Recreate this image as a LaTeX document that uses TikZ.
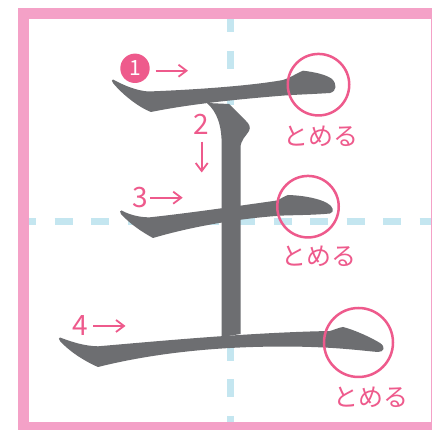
\documentclass[tikz,border=0pt]{standalone}
\usepackage{fontspec}
\newfontfamily\cjk{Noto Sans CJK JP}
\usetikzlibrary{arrows.meta}
\definecolor{framepink}{RGB}{244,161,199}
\definecolor{guide}{RGB}{196,230,240}
\definecolor{ink}{RGB}{109,110,113}
\definecolor{accent}{RGB}{238,90,140}
\tikzset{
  brush/.style={fill=ink, draw=none},
  guideline/.style={draw=guide, line width=6.5pt, dash pattern=on 18pt off 18.5pt},
  ring/.style={circle, draw=accent, line width=2.5pt, inner sep=0pt},
  arr/.style={draw=accent, line width=1.8pt, -{Straight Barb[length=8pt,width=12pt]}},
  num/.style={text=accent, inner sep=0pt, font=\cjk\fontsize{28}{28}\selectfont},
  tome/.style={text=accent, inner sep=0pt, font=\cjk\fontsize{25}{25}\selectfont},
  badge/.style={circle, fill=accent, text=white, inner sep=0pt, minimum size=29.4pt, font=\cjk\fontsize{21}{21}\selectfont}
}
\begin{document}
\begin{tikzpicture}[x=1pt,y=-1pt]
\useasboundingbox (0,0) rectangle (432,430);
\fill[white] (0,0) rectangle (432,430);
% frame
\draw[framepink, line width=11pt] (23.8,13.8) rectangle (436,427.2);
% guides
\draw[guideline, dash phase=5pt] (230.7,19.3) -- (230.7,421.7);
\draw[guideline, dash phase=11.3pt] (29.3,221.3) -- (430.5,221.3);
% stroke 1
\fill[brush] (113,79.5) .. controls (124,85.5) and (136,90.5) .. (148,91.5)
  .. controls (190,90) and (250,86) .. (283,80)
  .. controls (290,78) and (297,73) .. (303,70.7)
  .. controls (315,72) and (327,75) .. (332,79)
  .. controls (337,84) and (337,91) .. (330,93)
  .. controls (315,94) and (300,94.5) .. (287,95.3)
  .. controls (240,99) and (190,104) .. (151,112)
  .. controls (138,107) and (122,94) .. (113,83)
  .. controls (111.5,81.5) and (111.5,79.5) .. (113,79.5) -- cycle;
% stroke 2
\fill[brush] (207,103) .. controls (217,112) and (221.7,125) .. (221.7,145)
  -- (221.7,337) -- (240.5,334) -- (240.5,148)
  .. controls (240.5,140) and (246,136) .. (249,131)
  .. controls (251,127) and (249,124) .. (246,121)
  -- (229,104) -- cycle;
% stroke 3
\fill[brush] (121.5,210.5) .. controls (130,215) and (140,217.5) .. (150,217.3)
  .. controls (190,213) and (245,205) .. (277,200.5)
  .. controls (281,198.5) and (285,196) .. (288,195)
  .. controls (305,195.5) and (320,199) .. (327,203)
  .. controls (333,206) and (335,212) .. (330,213.5)
  .. controls (315,215) and (300,215) .. (284,215.5)
  .. controls (240,218) and (190,227) .. (153,238)
  .. controls (142,232) and (130,224) .. (121,214)
  .. controls (119.5,212) and (120,210.5) .. (121.5,210.5) -- cycle;
% stroke 4
\fill[brush] (60,337.5) .. controls (72,342) and (84,346) .. (98,346.3)
  .. controls (160,341) and (250,332.5) .. (330,331)
  .. controls (335,329.5) and (339,327.5) .. (343,327)
  .. controls (355,330) and (372,338) .. (380,343)
  .. controls (386,347) and (384,352) .. (378,352)
  .. controls (360,350.5) and (340,347.5) .. (300,346.7)
  .. controls (230,345.5) and (160,351.5) .. (98,367)
  .. controls (82,360) and (68,350) .. (60,341)
  .. controls (58.5,339.5) and (58.5,337.5) .. (60,337.5) -- cycle;
% rings
\node[ring, minimum size=61.5pt] (c1) at (318.5,84.7) {};
\node[ring, minimum size=61.5pt] (c2) at (308,206.7) {};
\node[ring, minimum size=69pt] (c3) at (358.5,342.5) {};
% labels
\node[tome] (t1) at (321,136) {とめる};
\node[tome] (t2) at (319,256) {とめる};
\node[tome] (t3) at (371,397.5) {とめる};
% order numbers
\node[badge] (n1) at (135,68.3) {1};
\node[num] (n2) at (201.7,124.5) {2};
\node[num] (n3) at (140,197.5) {3};
\node[num] (n4) at (80,325.5) {4};
% arrows
\coordinate (a1s) at (155.7,70.7);
\coordinate (a1e) at (188,70.7);
\coordinate (a2s) at (201.7,141.7);
\coordinate (a2e) at (201.7,172.5);
\coordinate (a3s) at (150,197.7);
\coordinate (a3e) at (182.7,197.7);
\coordinate (a4s) at (93,326);
\coordinate (a4e) at (125.5,326);
\draw[arr] (a1s) -- (a1e);
\draw[arr] (a2s) -- (a2e);
\draw[arr] (a3s) -- (a3e);
\draw[arr] (a4s) -- (a4e);
\end{tikzpicture}
\end{document}
